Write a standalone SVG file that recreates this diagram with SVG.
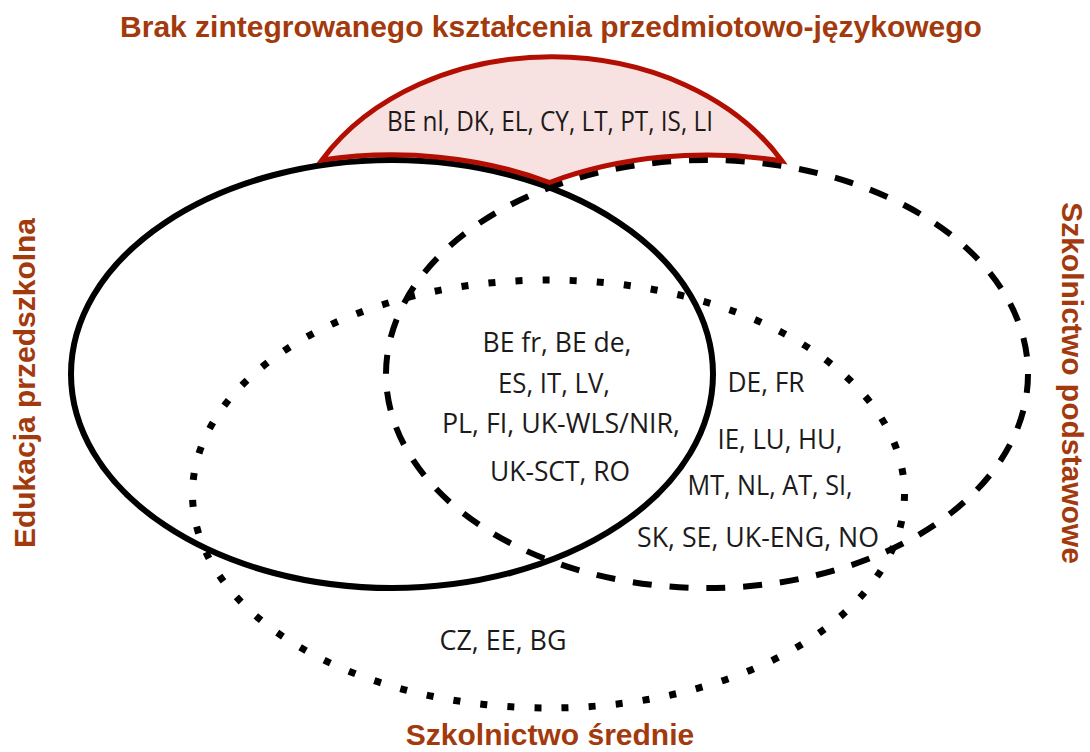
<svg xmlns="http://www.w3.org/2000/svg" width="1090" height="752" viewBox="0 0 1090 752">
<style>
.lbl{font-family:"Liberation Sans",Arial,sans-serif;font-weight:bold;font-size:30px;fill:#A23A0D;text-anchor:middle}
.txt{font-family:"Open Sans","Noto Sans",sans-serif;font-size:27px;fill:#1c1a1a;text-anchor:middle}
.solid{fill:none;stroke:#000;stroke-width:6}
.dashed{fill:none;stroke:#000;stroke-width:6;stroke-dasharray:19 17.9}
.dotted{fill:none;stroke:#000;stroke-width:7;stroke-dasharray:7 20.15}
.cap{fill:#F8E2E1;stroke:#B30E02;stroke-width:5;stroke-linejoin:miter}
</style>
<rect x="0" y="0" width="1090" height="752" fill="#fff"/>
<g id="connectors"></g>
<g id="node-przedszkolna">
<ellipse class="solid" cx="392" cy="374" rx="321" ry="214"/>
<text class="lbl" transform="translate(35,383) rotate(-90)">Edukacja przedszkolna</text>
</g>
<g id="node-podstawowe">
<ellipse class="dashed" cx="707" cy="374" rx="321" ry="214"/>
<text class="lbl" transform="translate(1062,383) rotate(90)">Szkolnictwo podstawowe</text>
</g>
<g id="node-srednie">
<ellipse class="dotted" cx="548.5" cy="494" rx="356" ry="214"/>
<text class="lbl" x="550" y="745">Szkolnictwo średnie</text>
</g>
<g id="node-brak-clil">
<path class="cap" d="M322 160 A265 206 0 0 1 782 161 A321 214 0 0 0 549.5 182.5 A321 214 0 0 0 322 160 Z"/>
<text class="lbl" x="551" y="37">Brak zintegrowanego kształcenia przedmiotowo-językowego</text>
<text class="txt" x="550" y="131" textLength="326" lengthAdjust="spacingAndGlyphs">BE nl, DK, EL, CY, LT, PT, IS, LI</text>
</g>
<g id="node-all-three">
<text class="txt" x="557" y="352" textLength="149" lengthAdjust="spacingAndGlyphs">BE fr, BE de,</text>
<text class="txt" x="554" y="393" textLength="112" lengthAdjust="spacingAndGlyphs">ES, IT, LV,</text>
<text class="txt" x="561" y="433" textLength="238" lengthAdjust="spacingAndGlyphs">PL, FI, UK-WLS/NIR,</text>
<text class="txt" x="560" y="481" textLength="140" lengthAdjust="spacingAndGlyphs">UK-SCT, RO</text>
</g>
<g id="node-primary-secondary">
<text class="txt" x="766" y="392" textLength="77" lengthAdjust="spacingAndGlyphs">DE, FR</text>
<text class="txt" x="780" y="449" textLength="125" lengthAdjust="spacingAndGlyphs">IE, LU, HU,</text>
<text class="txt" x="770" y="495" textLength="165" lengthAdjust="spacingAndGlyphs">MT, NL, AT, SI,</text>
<text class="txt" x="758" y="547" textLength="242" lengthAdjust="spacingAndGlyphs">SK, SE, UK-ENG, NO</text>
</g>
<g id="node-secondary-only">
<text class="txt" x="503" y="650" textLength="127" lengthAdjust="spacingAndGlyphs">CZ, EE, BG</text>
</g>
</svg>
